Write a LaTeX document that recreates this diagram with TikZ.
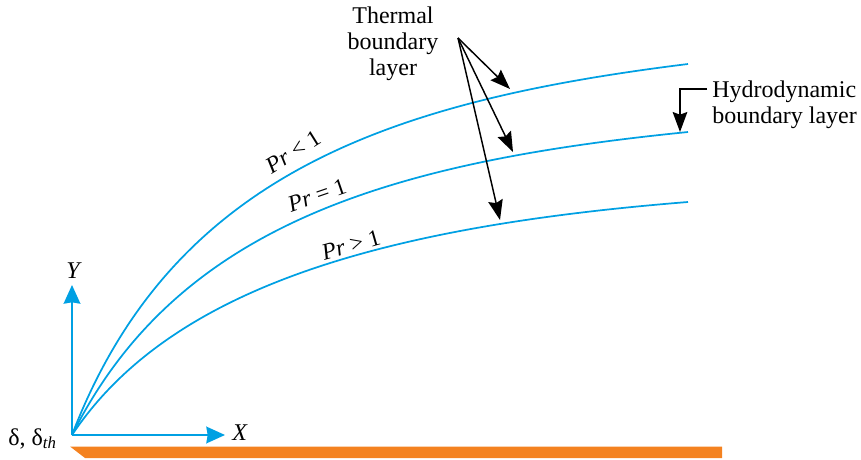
\documentclass[tikz,border=0pt]{standalone}
\usepackage{fontspec}
\setmainfont{LiberationSerif}[Extension=.ttf, UprightFont=*-Regular, ItalicFont=*-Italic, BoldFont=*-Bold, BoldItalicFont=*-BoldItalic]
\usetikzlibrary{arrows.meta}
\definecolor{curveblue}{RGB}{0,160,227}
\definecolor{plateorange}{RGB}{244,130,32}
\begin{document}
\begin{tikzpicture}[x=0.75pt,y=-0.75pt,
  curve/.style={curveblue, line width=1.3pt},
  axis/.style={curveblue, line width=1.4pt, -{Stealth[length=14pt,width=12.5pt,inset=1pt]}},
  pointer/.style={black, line width=1.1pt, -{Stealth[length=15pt,width=11pt,inset=2pt]}},
  lbl/.style={font=\fontsize{18}{19.5}\selectfont, inner sep=0pt},
  prlbl/.style={font=\fontsize{17.5}{18}\selectfont, inner sep=0pt}]
\useasboundingbox (0,0) rectangle (861,460);

% plate
\fill[plateorange] (70,446.5) -- (722,446.5) -- (722,458) -- (85,458) -- cycle;

% origin and axes
\coordinate (O) at (72,435);
\coordinate (ytip) at (72,285);
\coordinate (xtip) at (225,435);
\draw[axis] (O) -- (ytip);
\draw[axis] (O) -- (xtip);
\node[lbl, anchor=base] (ylab) at (74,278) {\textit{Y}};
\node[lbl, anchor=base west] (xlab) at (232,440) {\textit{X}};
\node[lbl, anchor=base west] (delta) at (8,445) {δ, δ\textsubscript{\textit{th}}};

% boundary-layer curves
\coordinate (e1) at (688,64);
\coordinate (e2) at (688,132);
\coordinate (e3) at (688,202);
\draw[curve] (O) .. controls (172,174) and (390,101) .. (e1);
\draw[curve] (O) .. controls (177,225) and (389,162) .. (e2);
\draw[curve] (O) .. controls (172,285) and (389,226) .. (e3);

% Pr labels
\node[prlbl, rotate=32] (pr1) at (293,152) {\textit{Pr} < 1};
\node[prlbl, rotate=19] (pr2) at (317,195) {\textit{Pr} = 1};
\node[prlbl, rotate=16] (pr3) at (351,245) {\textit{Pr} > 1};

% thermal boundary layer
\node[lbl, anchor=north, align=center] (thermal) at (393,7) {Thermal\\boundary\\layer};
\coordinate (src) at (458,38);
\coordinate (t1) at (510,89);
\coordinate (t2) at (513,152);
\coordinate (t3) at (500,220);
\draw[pointer] (src) -- (t1);
\draw[pointer] (src) -- (t2);
\draw[pointer] (src) -- (t3);

% hydrodynamic boundary layer
\node[lbl, anchor=north west, align=left] (hydro) at (712,81) {Hydrodynamic\\boundary layer};
\coordinate (hb) at (707,89);
\coordinate (hd) at (680,132);
\draw[pointer] (hb) -| (hd);
\end{tikzpicture}
\end{document}
